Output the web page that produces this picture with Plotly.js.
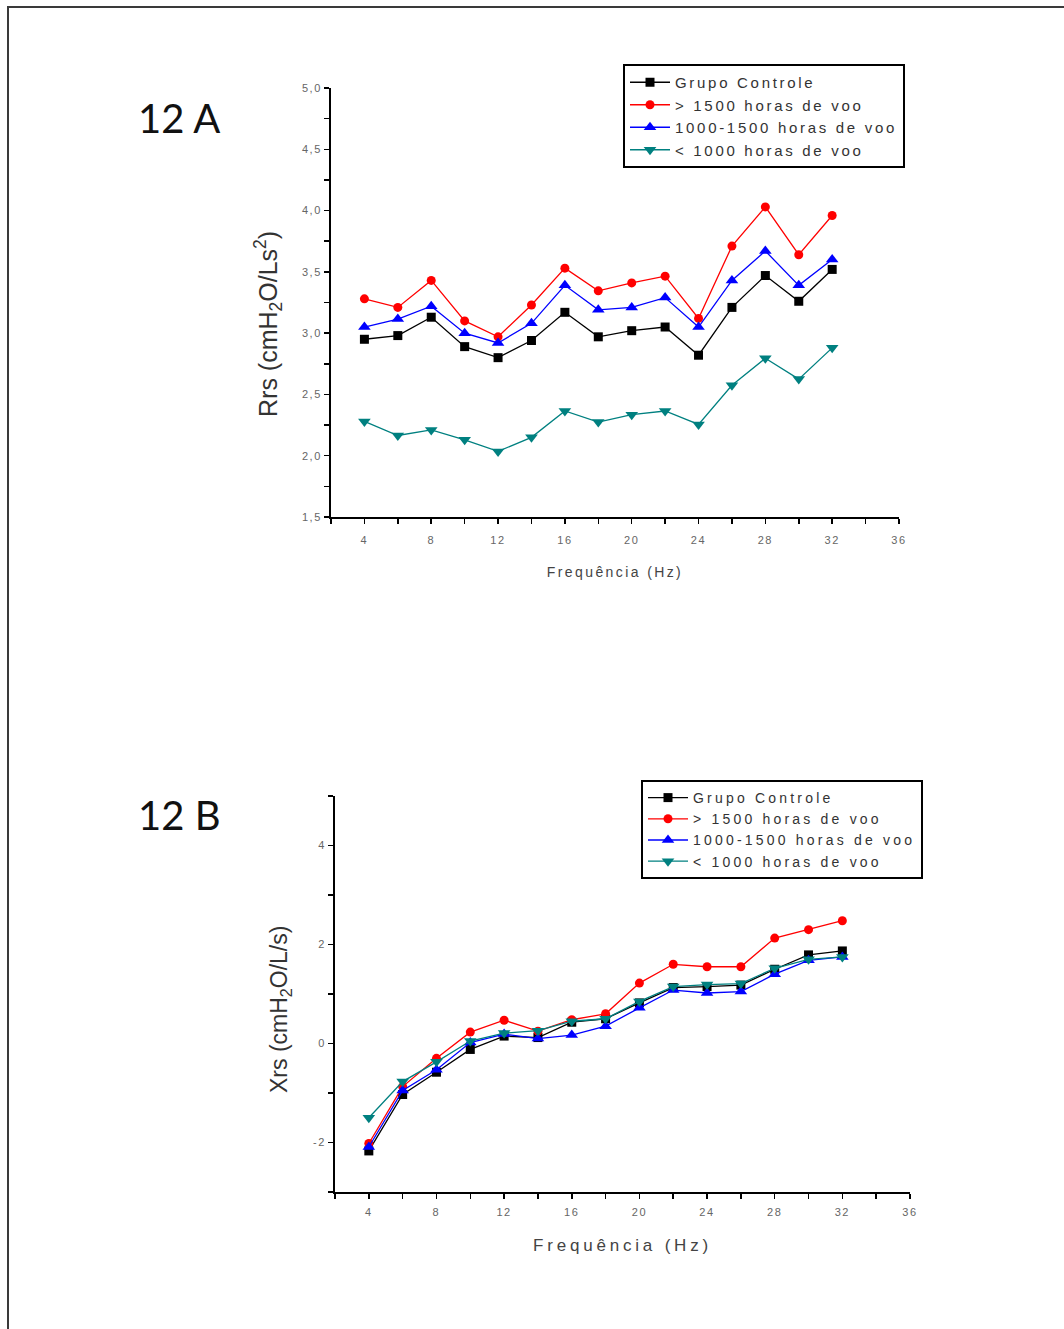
<!DOCTYPE html>
<html>
<head>
<meta charset="utf-8">
<script src="https://cdn.plot.ly/plotly-3.0.1.min.js"></script>
<style>
  html, body { margin: 0; padding: 0; background: #fff; overflow: hidden; }
  #frame { position: absolute; left: 7px; top: 6px; width: 1200px; height: 1500px;
           border-left: 2px solid #3a3a3a; border-top: 2px solid #3a3a3a; pointer-events: none; z-index: 5; }
  #chart { position: absolute; left: 0; top: 0; width: 1064px; height: 1329px; }
  .xtick text, .x2tick text, .ytick text, .y2tick text { letter-spacing: 1.6px !important; }
  .g-xtitle text { letter-spacing: 2.4px !important; }
  .g-x2title text { letter-spacing: 3.8px !important; }
</style>
</head>
<body>
<div id="chart"></div>
<div id="frame"></div>
<script>
// ---- data ----
const freq = [4, 6, 8, 10, 12, 14, 16, 18, 20, 22, 24, 26, 28, 30, 32];
const seriesNames = ['Grupo Controle', '> 1500 horas de voo', '1000-1500 horas de voo', '< 1000 horas de voo'];

// Painel 12 A: Rrs (cmH2O/Ls2)
const rrsControle  = [2.95, 2.98, 3.13, 2.89, 2.80, 2.94, 3.17, 2.97, 3.02, 3.05, 2.82, 3.21, 3.47, 3.26, 3.52];
const rrsMais1500  = [3.28, 3.21, 3.43, 3.10, 2.97, 3.23, 3.53, 3.345, 3.41, 3.465, 3.12, 3.71, 4.03, 3.64, 3.96];
const rrs1000a1500 = [3.05, 3.115, 3.22, 3.00, 2.92, 3.08, 3.39, 3.19, 3.21, 3.29, 3.05, 3.43, 3.67, 3.39, 3.60];
const rrsMenos1000 = [2.28, 2.165, 2.21, 2.13, 2.035, 2.15, 2.365, 2.275, 2.335, 2.365, 2.255, 2.575, 2.795, 2.625, 2.88];

// Painel 12 B: Xrs (cmH2O/L/s)
const xrsControle  = [-2.17, -1.03, -0.58, -0.12, 0.15, 0.12, 0.43, 0.50, 0.82, 1.13, 1.15, 1.18, 1.50, 1.79, 1.87];
const xrsMais1500  = [-2.02, -0.87, -0.30, 0.23, 0.47, 0.25, 0.48, 0.60, 1.22, 1.60, 1.55, 1.55, 2.13, 2.30, 2.48];
const xrs1000a1500 = [-2.09, -0.95, -0.53, 0.02, 0.19, 0.10, 0.17, 0.35, 0.72, 1.08, 1.02, 1.05, 1.40, 1.68, 1.75];
const xrsMenos1000 = [-1.50, -0.77, -0.37, 0.05, 0.21, 0.26, 0.45, 0.50, 0.85, 1.15, 1.19, 1.21, 1.52, 1.70, 1.75];

const xTickVals = [4, 8, 12, 16, 20, 24, 28, 32, 36];
const xTickText = ['4', '8', '12', '16', '20', '24', '28', '32', '36'];
const yATickVals = [1.5, 2.0, 2.5, 3.0, 3.5, 4.0, 4.5, 5.0];
const yATickText = ['1,5', '2,0', '2,5', '3,0', '3,5', '4,0', '4,5', '5,0'];
const yBTickVals = [-2, 0, 2, 4];
const yBTickText = ['-2', '0', '2', '4'];

const panelLabels = ['12 A', '12 B'];
const xTitle = 'Frequência (Hz)';
const yTitleA = 'Rrs (cmH<sub>2</sub>O/Ls<sup>2</sup>)';
const yTitleB = 'Xrs (cmH<sub>2</sub>O/L/s)';

// ---- styles ----
const colors = ['#000000', '#ff0000', '#0000ff', '#008080'];
const symbols = ['square', 'circle', 'triangle-up', 'triangle-down'];
const msizes = [9, 9, 11, 11];

function esc(s) { return s.replace(/&/g, '&amp;').replace(/</g, '&lt;').replace(/>/g, '&gt;'); }
function spaced(s, sp) { return '<span style="letter-spacing:' + sp + 'px">' + esc(s) + '</span>'; }

function mk(yvals, i, xa, ya, legend, sp) {
  return {
    x: freq, y: yvals, type: 'scatter', mode: 'lines+markers',
    name: spaced(seriesNames[i], sp), xaxis: xa, yaxis: ya, legend: legend,
    line: { color: colors[i], width: 1.3 },
    marker: { color: colors[i], symbol: symbols[i], size: msizes[i] }
  };
}

const data = [
  mk(rrsControle, 0, 'x', 'y', 'legend', 2.7),
  mk(rrsMais1500, 1, 'x', 'y', 'legend', 2.7),
  mk(rrs1000a1500, 2, 'x', 'y', 'legend', 2.7),
  mk(rrsMenos1000, 3, 'x', 'y', 'legend', 2.7),
  mk(xrsControle, 0, 'x2', 'y2', 'legend2', 3.2),
  mk(xrsMais1500, 1, 'x2', 'y2', 'legend2', 3.2),
  mk(xrs1000a1500, 2, 'x2', 'y2', 'legend2', 3.2),
  mk(xrsMenos1000, 3, 'x2', 'y2', 'legend2', 3.2)
];

const W = 1064, H = 1329;
const FAM = 'Liberation Sans, Arial, sans-serif';

function xaxisCfg(dom, anchor, tickSize, titleSize, standoff, lblStandoff) {
  return {
    domain: dom, anchor: anchor, range: [2, 36], showgrid: false, zeroline: false,
    showline: true, linecolor: '#000', linewidth: 1.8, ticks: 'outside', ticklen: 5, tickwidth: 1.5, tickcolor: '#000',
    tickvals: xTickVals, ticktext: xTickText, tickfont: { family: FAM, size: tickSize, color: '#666' },
    ticklabelstandoff: lblStandoff,
    minor: { tickvals: [2, 6, 10, 14, 18, 22, 26, 30, 34], ticks: 'outside', ticklen: 5, tickwidth: 1.5, tickcolor: '#000' },
    title: { text: xTitle, font: { family: FAM, size: titleSize, color: '#444' }, standoff: standoff },
    automargin: false, fixedrange: true
  };
}
function yaxisCfg(dom, anchor, range, tv, tt, minorVals, tickSize) {
  return {
    domain: dom, anchor: anchor, range: range, showgrid: false, zeroline: false,
    showline: true, linecolor: '#000', linewidth: 1.8, ticks: 'outside', ticklen: 5, tickwidth: 1.5, tickcolor: '#000',
    tickvals: tv, ticktext: tt, tickfont: { family: FAM, size: tickSize, color: '#666' },
    minor: { tickvals: minorVals, ticks: 'outside', ticklen: 5, tickwidth: 1.5, tickcolor: '#000' },
    automargin: false, fixedrange: true
  };
}

const layout = {
  width: W, height: H,
  margin: { l: 0, r: 0, t: 0, b: 0 },
  paper_bgcolor: 'rgba(0,0,0,0)', plot_bgcolor: 'rgba(0,0,0,0)',
  showlegend: true,
  xaxis: xaxisCfg([331 / W, 899 / W], 'y', 11, 14, 22, 7),
  yaxis: yaxisCfg([1 - 517 / H, 1 - 88 / H], 'x', [1.5, 5.0], yATickVals, yATickText,
    [1.75, 2.25, 2.75, 3.25, 3.75, 4.25, 4.75], 11),
  xaxis2: xaxisCfg([335 / W, 910 / W], 'y2', 11, 17, 22, 4),
  yaxis2: yaxisCfg([1 - 1192 / H, 1 - 796 / H], 'x2', [-3, 5], yBTickVals, yBTickText,
    [-3, -1, 1, 3, 5], 11),
  legend: {
    x: 623 / W, y: 1 - 64 / H, xanchor: 'left', yanchor: 'top',
    bgcolor: '#fff', bordercolor: '#000', borderwidth: 2,
    font: { family: FAM, size: 15, color: '#333' },
    itemwidth: 40, tracegroupgap: 0
  },
  legend2: {
    x: 641 / W, y: 1 - 780 / H, xanchor: 'left', yanchor: 'top',
    bgcolor: '#fff', bordercolor: '#000', borderwidth: 2,
    font: { family: FAM, size: 14, color: '#333' },
    itemwidth: 40, tracegroupgap: 0
  },
  annotations: [
    { text: panelLabels[0], xref: 'paper', yref: 'paper', x: 136 / W, y: 1 - 118 / H, xanchor: 'left', yanchor: 'middle',
      showarrow: false, font: { family: 'Lato, Open Sans, sans-serif', size: 40, color: '#111' } },
    { text: panelLabels[1], xref: 'paper', yref: 'paper', x: 136 / W, y: 1 - 815 / H, xanchor: 'left', yanchor: 'middle',
      showarrow: false, font: { family: 'Lato, Open Sans, sans-serif', size: 40, color: '#111' } },
    { text: yTitleA, xref: 'paper', yref: 'paper', x: 268 / W, y: 1 - 324 / H, xanchor: 'center', yanchor: 'middle',
      textangle: -90, showarrow: false, font: { family: FAM, size: 25, color: '#333' } },
    { text: yTitleB, xref: 'paper', yref: 'paper', x: 280 / W, y: 1 - 1010 / H, xanchor: 'center', yanchor: 'middle',
      textangle: -90, showarrow: false, font: { family: FAM, size: 23, color: '#333' } }
  ]
};

Plotly.newPlot('chart', data, layout, { displayModeBar: false, staticPlot: true });
</script>
</body>
</html>
